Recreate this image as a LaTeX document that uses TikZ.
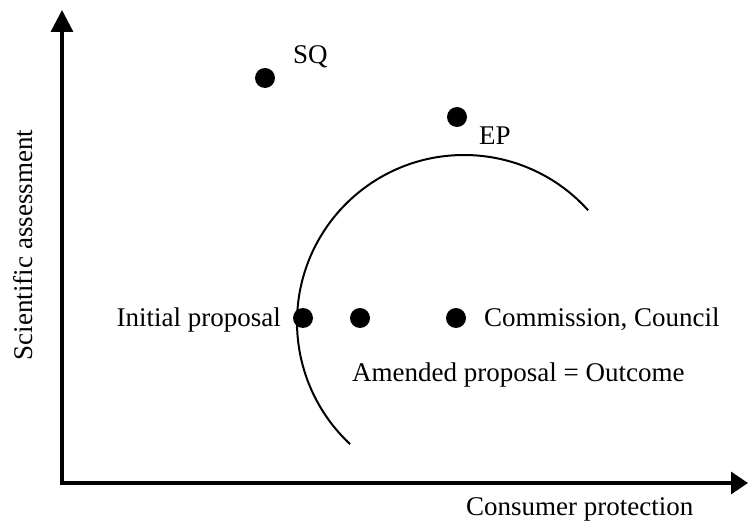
\documentclass[tikz,border=0pt]{standalone}
\usepackage{fontspec}
\setmainfont{Liberation Serif}
\usetikzlibrary{arrows.meta}
\begin{document}
\begin{tikzpicture}[x=1pt,y=1pt,
  axis/.style={line width=3.3pt},
  dot/.style={circle,fill=black,inner sep=0pt,minimum size=20pt},
  lbl/.style={inner sep=0pt,font=\fontsize{27}{32}\selectfont}]
\useasboundingbox (0,0) rectangle (748,523);
\coordinate (O) at (62,40);
\coordinate (Ytip) at (62,513);
\coordinate (Xtip) at (748,40);
\draw[axis,-{Triangle[length=22pt,width=22pt]}] ([yshift=-1.65pt]O) -- (Ytip);
\draw[axis,-{Triangle[length=17pt,width=22pt]}] ([xshift=-1.65pt]O) -- (Xtip);
% arc
\coordinate (C) at (464,201);
\draw[line width=2pt] ([shift={(42:167)}]C) arc[start angle=42,end angle=227,radius=167];
% dots
\node[dot] (sq) at (265,445) {};
\node[dot] (ep) at (457,406) {};
\node[dot] (ip) at (303,205) {};
\node[dot] (am) at (360,205) {};
\node[dot] (cc) at (456,205) {};
% labels
\node[lbl,anchor=base west] (sqt) at (293,459) {SQ};
\node[lbl,anchor=base west] (ept) at (479,378) {EP};
\node[lbl,anchor=base east] (ipt) at (281,196) {Initial proposal};
\node[lbl,anchor=base west] (cct) at (484,196) {Commission, Council};
\node[lbl,anchor=base west] (amt) at (352,141) {Amended proposal = Outcome};
\node[lbl,anchor=base west] (xl) at (466,8) {Consumer protection};
\node[lbl,anchor=base,rotate=90] (yl) at (32,278) {Scientific assessment};
\end{tikzpicture}
\end{document}
